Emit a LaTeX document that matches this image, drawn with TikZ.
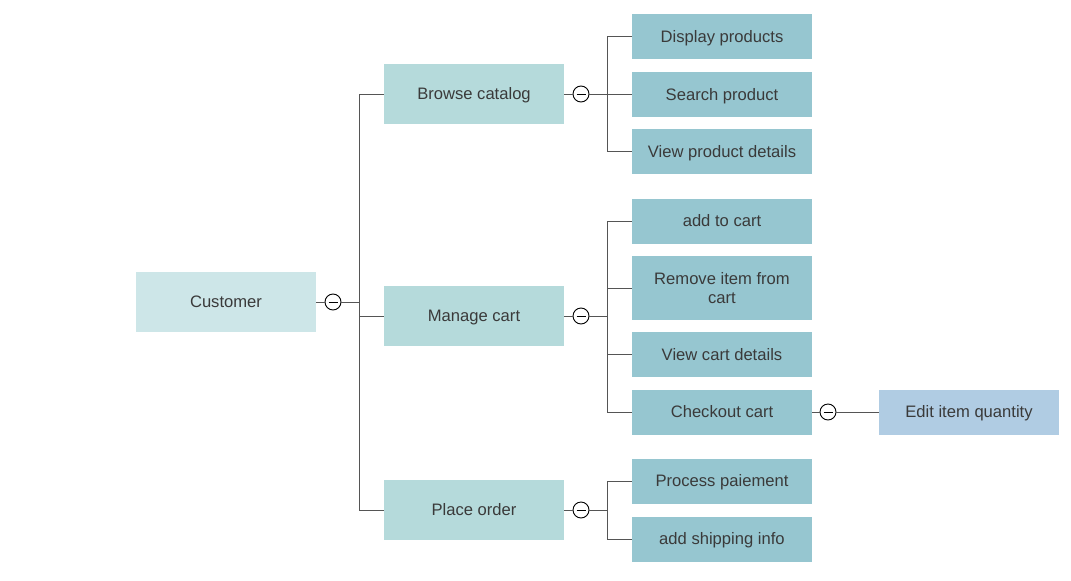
\documentclass[tikz,border=0pt]{standalone}
\usepackage{fontspec}
\setmainfont{Liberation Sans}
\definecolor{rootfill}{HTML}{CDE6E8}
\definecolor{midfill}{HTML}{B5DADB}
\definecolor{leaffill}{HTML}{96C6D0}
\definecolor{bluefill}{HTML}{B0CCE3}
\definecolor{textgray}{HTML}{3A3A3A}
\definecolor{linegray}{HTML}{555555}
\begin{document}
\begin{tikzpicture}[x=1pt, y=-1pt,
        rootbox/.style={rectangle, fill=rootfill, text=textgray, minimum width=180pt, minimum height=60pt, align=center,
            text height=11.5pt, text depth=0pt, font=\fontsize{16.6}{19.5}\selectfont},
        midbox/.style={rootbox, fill=midfill},
        leafbox/.style={rootbox, fill=leaffill, minimum height=45pt},
        toggle/.style={circle, draw=black, line width=0.9pt, fill=white, minimum size=16pt, inner sep=0pt,
            path picture={\draw[line width=1pt] ([xshift=-4.5pt]path picture bounding box.center) -- ([xshift=4.5pt]path picture bounding box.center);}},
        link/.style={draw=linegray, line width=1pt}]

        \useasboundingbox (0,0) rectangle (1071,581);

        % Root
        \node[rootbox] (customer) at (226,302) {Customer};
        \node[toggle] (t0) at (333,302) {};
        \coordinate (s0) at (359,302);

        % First level
        \node[midbox] (browse) at (474,94) {Browse catalog};
        \node[midbox] (cart) at (474,316) {Manage cart};
        \node[midbox] (order) at (474,510) {Place order};
        \node[toggle] (t1) at (581,94) {};
        \node[toggle] (t2) at (581,316) {};
        \node[toggle] (t3) at (581,510) {};
        \coordinate (s1) at (607,94);
        \coordinate (s2) at (607,316);
        \coordinate (s3) at (607,510);

        % Browse catalog children
        \node[leafbox] (display) at (722,36.5) {Display products};
        \node[leafbox] (search) at (722,94.5) {Search product};
        \node[leafbox] (details) at (722,151.5) {View product details};

        % Manage cart children
        \node[leafbox] (addcart) at (722,221) {add to cart};
        \node[leafbox, minimum height=64pt, text height=31pt, text depth=0pt] (remove) at (722,288) {Remove item from\\cart};
        \node[leafbox] (viewcart) at (722,354.5) {View cart details};
        \node[leafbox] (checkout) at (722,412) {Checkout cart};
        \node[toggle] (t4) at (828,412) {};
        \node[rootbox, fill=bluefill, minimum height=45pt] (quantity) at (969,412) {Edit item quantity};

        % Place order children
        \node[leafbox] (payment) at (722,481) {Process paiement};
        \node[leafbox] (shipping) at (722,539) {add shipping info};

        % Draw links
        \draw[link] (customer) -- (t0) -- (s0);
        \draw[link] (s0 |- browse) -- (s0 |- order);
        \draw[link] (s0 |- browse) -- (browse);
        \draw[link] (s0 |- cart) -- (cart);
        \draw[link] (s0 |- order) -- (order);

        \draw[link] (browse) -- (t1) -- (s1);
        \draw[link] (s1 |- display) -- (s1 |- details);
        \draw[link] (s1 |- display) -- (display);
        \draw[link] (s1 |- search) -- (search);
        \draw[link] (s1 |- details) -- (details);

        \draw[link] (cart) -- (t2) -- (s2);
        \draw[link] (s2 |- addcart) -- (s2 |- checkout);
        \draw[link] (s2 |- addcart) -- (addcart);
        \draw[link] (s2 |- remove) -- (remove);
        \draw[link] (s2 |- viewcart) -- (viewcart);
        \draw[link] (s2 |- checkout) -- (checkout);
        \draw[link] (checkout) -- (t4) -- (quantity);

        \draw[link] (order) -- (t3) -- (s3);
        \draw[link] (s3 |- payment) -- (s3 |- shipping);
        \draw[link] (s3 |- payment) -- (payment);
        \draw[link] (s3 |- shipping) -- (shipping);

    \end{tikzpicture}
\end{document}
